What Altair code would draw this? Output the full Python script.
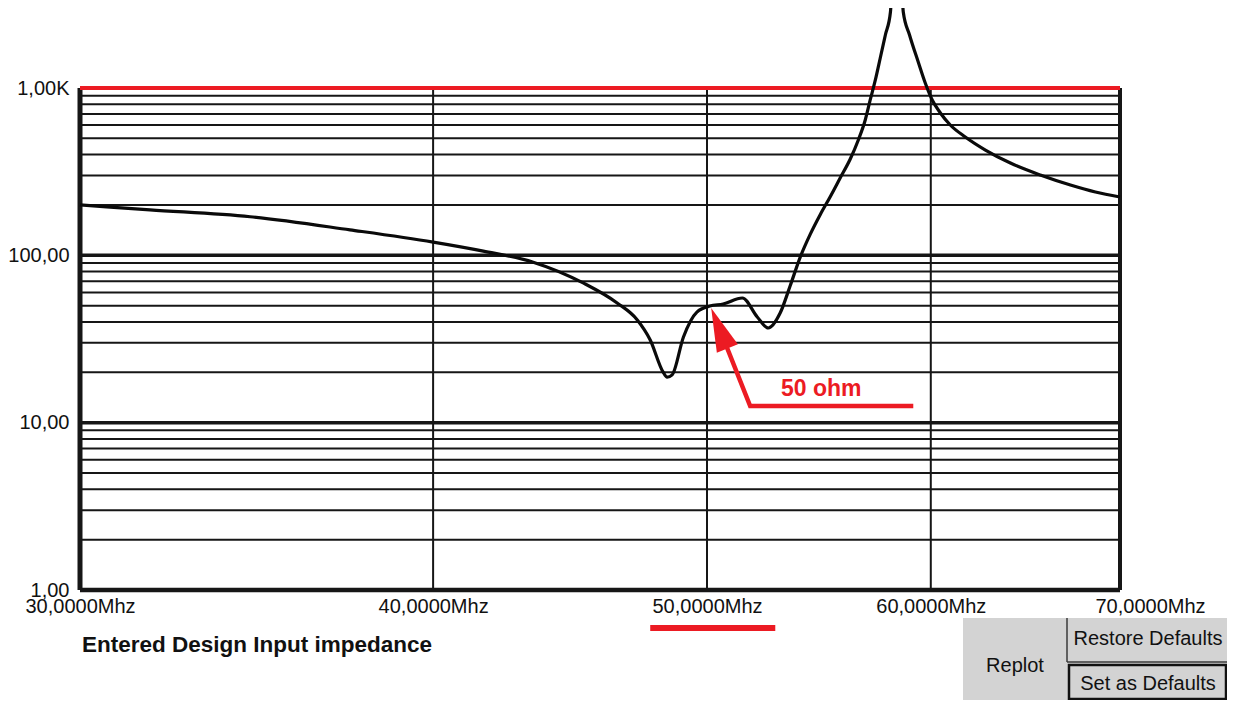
import altair as alt
import pandas as pd

# ---------------- data ----------------
freq_mhz = [30.0, 31.76, 34.46, 37.38, 40.0, 41.67, 43.40, 45.20, 46.47, 47.24,
            47.74, 48.24, 48.40, 48.60, 49.05, 49.59, 50.12, 50.66, 51.46, 52.09,
            52.56, 53.07, 53.51, 53.95, 54.39, 54.83, 55.28, 55.73, 56.19, 56.56,
            56.88, 57.11, 57.35, 57.58, 57.82, 58.06, 58.37, 58.67, 58.97, 59.39,
            59.73, 60.07, 60.47, 60.96, 61.71, 62.73, 64.02, 65.60, 67.23, 68.61,
            70.0]
impedance_ohm = [200, 187, 170, 142, 120, 106, 91, 68.4, 51.9, 41.1,
                 31.2, 20.1, 18.7, 19.3, 32.5, 45.8, 49.8, 51.2, 55.6, 42.8,
                 36.8, 45.2, 66.0, 98.0, 134.0, 175.0, 224.0, 289.9, 376.4, 489,
                 644, 848, 1117, 1511, 2074, 2846, 30000, 2846, 2074, 1430,
                 1071, 848, 709, 601, 510, 426, 356, 302, 263, 239,
                 223]

x_ticks = [30, 40, 50, 60, 70]
x_tick_labels = ["30,0000Mhz", "40,0000Mhz", "50,0000Mhz", "60,0000Mhz", "70,0000Mhz"]
y_ticks = [1, 10, 100, 1000]
y_tick_labels = ["1,00", "10,00", "100,00", "1,00K"]

grid_minor = [2, 3, 4, 5, 6, 7, 8, 9, 20, 30, 40, 50, 60, 70, 80, 90,
              200, 300, 400, 500, 600, 700, 800, 900]
grid_decade = [10, 100]
limit_line = [1000]
frame_bottom = [1]
grid_vertical = [40, 50, 60]
frame_left = [30]
frame_right = [70]

# annotation "50 ohm" arrow (data coordinates)
arrow_path_f = [59.15, 51.79, 50.50]
arrow_path_z = [12.58, 12.58, 36.8]
arrow_tip_f = [50.17]
arrow_tip_z = [48.4]
note_f = [54.88]
note_z = [15.9]
note_text = ["50 ohm"]
underline_f = [47.74, 52.86]
underline_z = [0.593]

title_text = "Entered Design Input impedance"
button_texts = ["Replot", "Restore Defaults", "Set as Defaults"]

# ---------------- styling ----------------
FONT = "Liberation Sans, Arial, sans-serif"
GRID = "#161616"
RED = "#ec1b23"
W, H = 1040, 502


def lbl_expr(vals, labels):
    expr = "''"
    for v, l in reversed(list(zip(vals, labels))):
        expr = f"datum.value == {v} ? '{l}' : ({expr})"
    return expr


xscale = alt.Scale(type="log", domain=[30, 70], nice=False)
yscale = alt.Scale(type="log", domain=[1, 1000], nice=False)

xaxis = alt.Axis(values=x_ticks, labelExpr=lbl_expr(x_ticks, x_tick_labels),
                 ticks=False, tickSize=0, domain=False, grid=False, title=None,
                 labelFont=FONT, labelFontSize=20, labelColor="#111",
                 labelPadding=6, labelOverlap=False, labelFlush=False,
                 labelOffset={"condition": {"test": "datum.value == 70", "value": 30}, "value": 0})
yaxis = alt.Axis(values=y_ticks, labelExpr=lbl_expr(y_ticks, y_tick_labels),
                 ticks=False, tickSize=0, domain=False, grid=False, title=None,
                 labelFont=FONT, labelFontSize=20, labelColor="#111",
                 labelPadding=11, labelOverlap=False, labelFlush=False)


def X(f):
    return alt.X(f, type="quantitative", scale=xscale, axis=xaxis)


def Y(f):
    return alt.Y(f, type="quantitative", scale=yscale, axis=yaxis)


def hrules(vals, color, sw):
    return alt.Chart(pd.DataFrame({"z": vals})).mark_rule(color=color, strokeWidth=sw).encode(y=Y("z"))


def vrules(vals, color, sw):
    return alt.Chart(pd.DataFrame({"f": vals})).mark_rule(color=color, strokeWidth=sw).encode(x=X("f"))


layers = [
    hrules(grid_minor, GRID, 2),
    hrules(grid_decade, GRID, 3.5),
    vrules(grid_vertical, GRID, 2),
    vrules(frame_left, GRID, 5),
    vrules(frame_right, GRID, 4),
    hrules(frame_bottom, GRID, 4.5),
    hrules(limit_line, RED, 4),
]

curve = alt.Chart(pd.DataFrame({"f": freq_mhz, "z": impedance_ohm})).mark_line(
    color="#0a0a0a", strokeWidth=3.2, interpolate="monotone").encode(x=X("f"), y=Y("z"))
layers.append(curve)

arrow_line = alt.Chart(pd.DataFrame({"f": arrow_path_f, "z": arrow_path_z,
                                     "seq": list(range(len(arrow_path_f)))})).mark_line(
    color=RED, strokeWidth=4.5, strokeJoin="miter").encode(x=X("f"), y=Y("z"), order="seq:O")
arrow_head = alt.Chart(pd.DataFrame({"f": arrow_tip_f, "z": arrow_tip_z})).mark_point(
    shape="M0,0 L0.52,2 L-0.52,2 Z", size=1900, angle=338.2, filled=True,
    color=RED, opacity=1, strokeWidth=0).encode(x=X("f"), y=Y("z"))
note = alt.Chart(pd.DataFrame({"f": note_f, "z": note_z, "t": note_text})).mark_text(
    font=FONT, fontSize=23, fontWeight="bold", color=RED, align="center",
    baseline="middle").encode(x=X("f"), y=Y("z"), text="t:N")
underline = alt.Chart(pd.DataFrame({"f": [underline_f[0]], "f2": [underline_f[1]],
                                    "z": underline_z})).mark_rule(
    color=RED, strokeWidth=6).encode(x=X("f"), x2="f2:Q", y=Y("z"))
layers += [arrow_line, arrow_head, note, underline]

# ---------------- caption and window buttons (decoration, pixel placed) ----------------
dummy = pd.DataFrame({"k": [0]})


def box(x, x2, y, y2, fill, stroke=None, sw=0):
    kw = dict(fill=fill)
    if stroke:
        kw.update(stroke=stroke, strokeWidth=sw)
    else:
        kw.update(strokeWidth=0)
    return alt.Chart(dummy).mark_rect(**kw).encode(
        x=alt.value(x), x2=alt.value(x2), y=alt.value(y), y2=alt.value(y2))


def line(x, x2, y, y2, color, sw):
    return alt.Chart(dummy).mark_rule(color=color, strokeWidth=sw).encode(
        x=alt.value(x), x2=alt.value(x2), y=alt.value(y), y2=alt.value(y2))


def label(txt, x, y, size, weight="normal", align="center"):
    return alt.Chart(dummy).mark_text(text=txt, font=FONT, fontSize=size, fontWeight=weight,
                                      color="#111", align=align, baseline="alphabetic").encode(
        x=alt.value(x), y=alt.value(y))


GRAY = "#d3d3d3"
layers += [
    label(title_text, 2, 564, 22.5, "bold", "left"),
    box(883, 1147, 530, 612, GRAY),
    line(987, 987, 530, 574, "#3a3a3a", 1.5),
    line(987, 1147, 574, 574, "#3a3a3a", 1.5),
    box(989, 1146, 577, 611, GRAY, "#111", 2.5),
    label(button_texts[0], 935, 584, 20),
    label(button_texts[1], 1068, 557, 20),
    label(button_texts[2], 1068, 602, 20),
]

chart = alt.layer(*layers).properties(
    width=W, height=H,
    padding={"left": 72, "top": 80, "right": 107, "bottom": 110},
    autosize=alt.AutoSizeParams(type="none"),
    background="white",
).configure_view(stroke=None)

chart.save("out.html", embed_options={"renderer": "svg", "actions": False})
